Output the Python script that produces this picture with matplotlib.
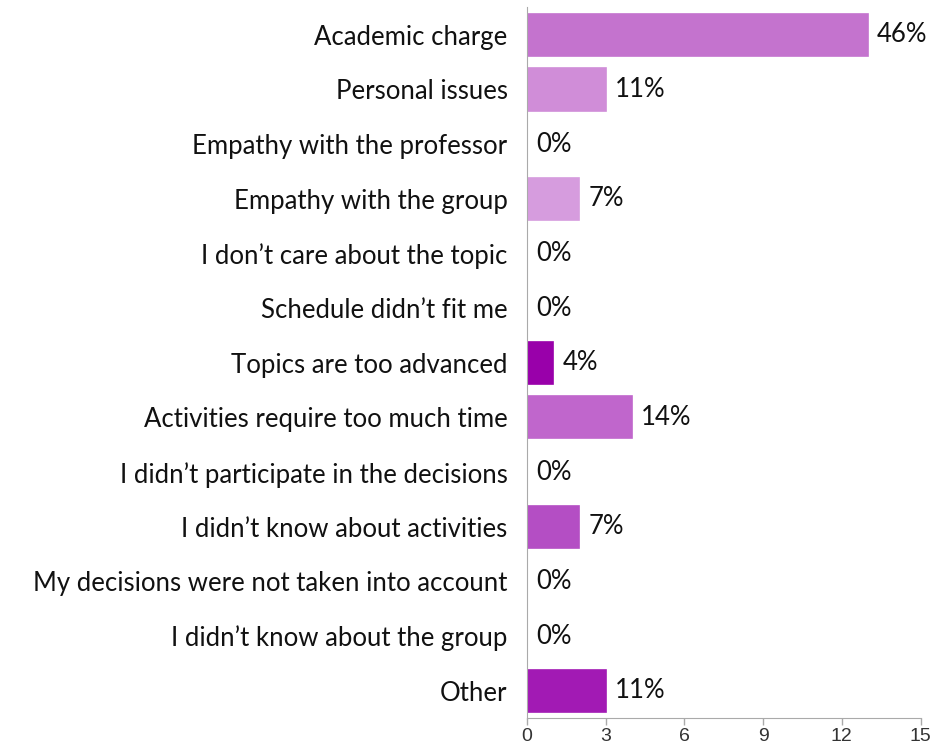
import matplotlib
matplotlib.use("Agg")
import matplotlib.pyplot as plt
import numpy as np

categories = [
    "Academic charge",
    "Personal issues",
    "Empathy with the professor",
    "Empathy with the group",
    "I don\u2019t care about the topic",
    "Schedule didn\u2019t fit me",
    "Topics are too advanced",
    "Activities require too much time",
    "I didn\u2019t participate in the decisions",
    "I didn\u2019t know about activities",
    "My decisions were not taken into account",
    "I didn\u2019t know about the group",
    "Other",
]
counts = [13, 3, 0, 2, 0, 0, 1, 4, 0, 2, 0, 0, 3]
pct_labels = ["46%", "11%", "0%", "7%", "0%", "0%", "4%", "14%", "0%", "7%", "0%", "0%", "11%"]
colors = ["#C473CE", "#D08DD8", "#D08DD8", "#D69CDE", "#D08DD8", "#D08DD8", "#9900AA",
          "#C066CC", "#C066CC", "#B44EC4", "#B44EC4", "#B44EC4", "#A21AB4"]
xticks = [0, 3, 6, 9, 12, 15]

fig = plt.figure(figsize=(9.37, 7.48), dpi=100)
ax = fig.add_axes([0.5624, 0.04, 0.42, 0.95])

y = np.arange(len(categories))
ax.barh(y, counts, height=0.77, color=colors, edgecolor=colors, linewidth=1.2)

for yi, v, lab in zip(y, counts, pct_labels):
    ax.annotate(lab, (v, yi), xytext=(6.5, 0), textcoords="offset points",
                va="center", ha="left", fontsize=18.5, family="Lato", color="#111111")

ax.set_ylim(12.5, -0.5)
ax.set_xlim(0, 15)
ax.set_yticks(y)
ax.set_yticklabels(categories, family="Lato", fontsize=18.5, color="#111111")
ax.tick_params(axis="y", length=0, pad=14)
ax.set_xticks(xticks)
ax.set_xticklabels([str(t) for t in xticks], family="Liberation Sans", fontsize=14, color="#333333")
ax.tick_params(axis="x", length=5, color="#aaaaaa", width=1, pad=2)
for s in ["top", "right"]:
    ax.spines[s].set_visible(False)
ax.spines["left"].set_color("#aaaaaa")
ax.spines["bottom"].set_color("#aaaaaa")

fig.savefig("out.png", dpi=100)
